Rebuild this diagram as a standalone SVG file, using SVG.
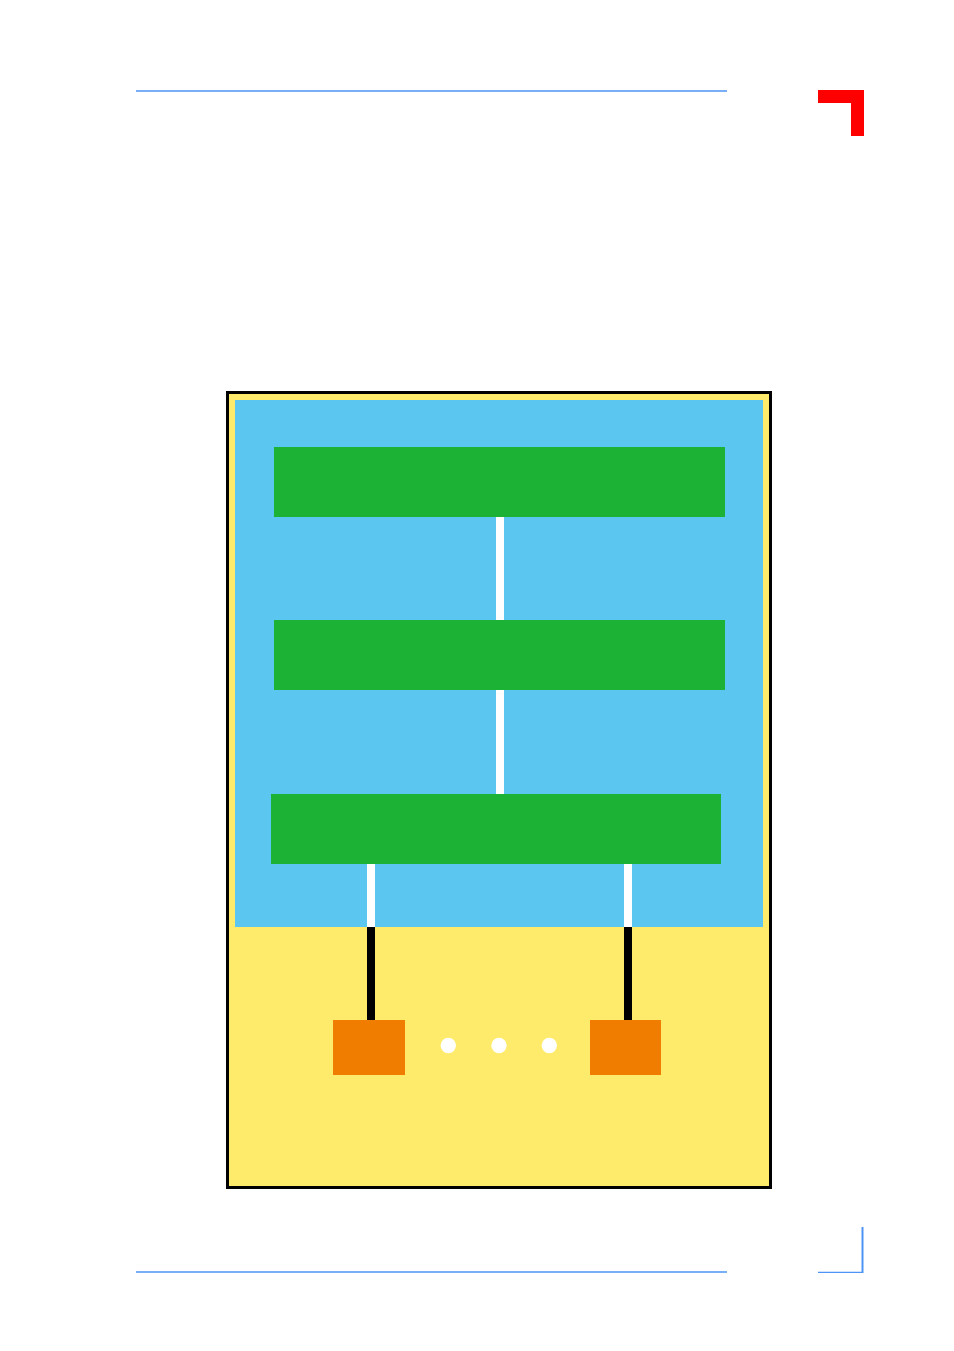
<svg xmlns="http://www.w3.org/2000/svg" width="954" height="1351" viewBox="0 0 954 1351">
<style>
.rule{stroke:#4D94F5;stroke-width:1.3;fill:none}
.green{fill:#1BB236}
.orange{fill:#F07C00}
.wire{fill:#FFFFFF}
.cable{fill:#000000}
.dot{fill:#FFFFFF}
</style>
<rect width="954" height="1351" fill="#FFFFFF"/>
<g id="page-frame">
<line class="rule" x1="136" y1="91" x2="727" y2="91"/>
<line class="rule" x1="136" y1="1272" x2="727" y2="1272"/>
<polygon points="818,90 864,90 864,136 851,136 851,103 818,103" fill="#FF0000"/>
<line x1="862.5" y1="1227" x2="862.5" y2="1273" stroke="#4D94F5" stroke-width="2"/>
<line x1="818" y1="1272.3" x2="863" y2="1272.3" stroke="#4D94F5" stroke-width="1.3"/>
</g>
<g id="outer-box">
<rect x="227.5" y="392.5" width="543" height="795" fill="#FFEB6B" stroke="#000000" stroke-width="3"/>
</g>
<g id="inner-area">
<rect x="235" y="400" width="528" height="527" fill="#5BC6F0"/>
</g>
<g id="connectors">
<rect class="wire" x="496" y="517" width="8" height="103"/>
<rect class="wire" x="496" y="690" width="8" height="104"/>
<rect class="wire" x="367" y="864" width="8" height="63"/>
<rect class="wire" x="624" y="864" width="8" height="63"/>
<rect class="cable" x="367" y="927" width="8" height="93"/>
<rect class="cable" x="624" y="927" width="8" height="93"/>
</g>
<g id="block-1"><rect class="green" x="274" y="447" width="451" height="70"/></g>
<g id="block-2"><rect class="green" x="274" y="620" width="451" height="70"/></g>
<g id="block-3"><rect class="green" x="271" y="794" width="450" height="70"/></g>
<g id="device-1"><rect class="orange" x="333" y="1020" width="72" height="55"/></g>
<g id="device-n"><rect class="orange" x="590" y="1020" width="71" height="55"/></g>
<g id="ellipsis">
<circle class="dot" cx="448.3" cy="1045.5" r="7.7"/>
<circle class="dot" cx="499" cy="1045.5" r="7.7"/>
<circle class="dot" cx="549.3" cy="1045.5" r="7.7"/>
</g>
</svg>
